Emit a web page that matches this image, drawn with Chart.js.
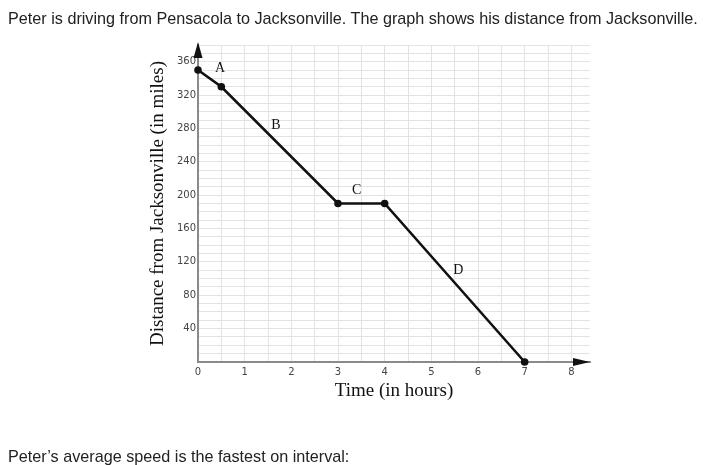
<!DOCTYPE html>
<html>
<head>
<meta charset="utf-8">
<script src="https://cdn.jsdelivr.net/npm/chart.js@4"></script>
<style>
	body { margin: 0; background: #fff; }
	#wrap { position: relative; width: 708px; height: 465px; }
	canvas { position: absolute; left: 0; top: 0; }
	.q {
		position: absolute; left: 8px; white-space: nowrap;
		font-family: "Liberation Sans", Arial, sans-serif; font-size: 16.2px; color: #222;
	}
</style>
</head>
<body>
<div id="wrap">
	<canvas id="graph" width="708" height="465"></canvas>
	<div class="q" style="top:9px">Peter is driving from Pensacola to Jacksonville. The graph shows his distance from Jacksonville.</div>
	<div class="q" style="top:447px">Peter’s average speed is the fastest on interval:</div>
</div>
<script>
// trip: time (hours) and distance from Jacksonville (miles)
const timeHours = [0, 0.5, 3, 4, 7];
const distanceMiles = [350, 330, 190, 190, 0];

// interval letters, placed in data units
const segmentNames = ['A', 'B', 'C', 'D'];
const labelTimes = [0.47, 1.67, 3.4, 5.58];
const labelDistances = [352, 284, 206, 110];

// axis ranges / tick steps
const xMax = 8.4, xStep = 0.5;
const yMax = 380, yStep = 10, yLabelStep = 40;

const decorations = {
	id: 'decorations',
	afterDatasetsDraw(chart) {
		const { ctx, chartArea, scales: { x, y } } = chart;
		ctx.save();
		ctx.font = '14px "Liberation Serif", "Times New Roman", serif';
		ctx.fillStyle = '#111';
		ctx.textAlign = 'center';
		ctx.textBaseline = 'middle';
		segmentNames.forEach((n, i) => {
			ctx.fillText(n, x.getPixelForValue(labelTimes[i]), y.getPixelForValue(labelDistances[i]));
		});

		// arrow heads on the axes
		const x0 = x.getPixelForValue(0), y0 = y.getPixelForValue(0);
		ctx.beginPath();
		ctx.moveTo(x0, chartArea.top - 3);
		ctx.lineTo(x0 - 4.5, chartArea.top + 13);
		ctx.lineTo(x0 + 4.5, chartArea.top + 13);
		ctx.closePath();
		ctx.fill();
		ctx.beginPath();
		ctx.moveTo(chartArea.right, y0);
		ctx.lineTo(chartArea.right - 17, y0 - 4);
		ctx.lineTo(chartArea.right - 17, y0 + 4);
		ctx.closePath();
		ctx.fill();
		ctx.restore();
	}
};

const tickFont = { family: '"DejaVu Sans", Verdana, sans-serif', size: 10 };
const titleFont = { family: '"Liberation Serif", "Times New Roman", serif', size: 19 };

new Chart(document.getElementById('graph'), {
	type: 'line',
	data: {
		datasets: [
			{
				data: timeHours.map((t, i) => ({ x: t, y: distanceMiles[i] })),
				borderColor: '#111',
				backgroundColor: '#111',
				borderWidth: 2.6,
				pointRadius: 2.5,
				pointHoverRadius: 2.5,
				tension: 0,
				clip: false
			}
		]
	},
	options: {
		responsive: false,
		animation: false,
		events: [],
		layout: { padding: { left: 147, right: 118, top: 45, bottom: 63 } },
		plugins: {
			legend: { display: false },
			tooltip: { enabled: false }
		},
		scales: {
			x: {
				type: 'linear',
				min: 0,
				max: xMax,
				afterBuildTicks: (s) => { s.ticks = s.ticks.filter(t => t.value <= 8); },
				afterFit: (s) => { s.height = 40; },
				ticks: {
					stepSize: xStep,
					includeBounds: false,
					autoSkip: false,
					maxRotation: 0,
					padding: 4,
					color: '#444',
					font: tickFont,
					callback: (v) => (v % 1 === 0 ? v : '')
				},
				grid: { color: '#e3e3e3', lineWidth: 1, drawTicks: false },
				border: { color: '#8a8a8a', width: 2 },
				title: {
					display: true,
					text: 'Time (in hours)',
					color: '#111',
					font: titleFont,
					padding: 0
				}
			},
			y: {
				min: 0,
				max: yMax,
				afterFit: (s) => { s.width = 51; },
				ticks: {
					stepSize: yStep,
					autoSkip: false,
					padding: 2,
					color: '#444',
					font: tickFont,
					callback: (v) => (v % yLabelStep === 0 && v > 0 && v < yMax ? v : '')
				},
				grid: { color: '#e3e3e3', lineWidth: 1, drawTicks: false },
				border: { color: '#8a8a8a', width: 2 },
				title: {
					display: true,
					text: 'Distance from Jacksonville (in miles)',
					color: '#111',
					font: titleFont,
					padding: 0
				}
			}
		}
	},
	plugins: [decorations]
});
</script>
</body>
</html>
